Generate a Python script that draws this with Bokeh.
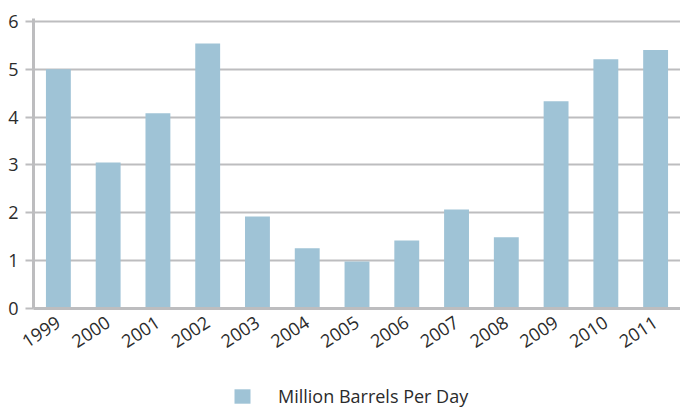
from bokeh.plotting import figure
from bokeh.layouts import column
from bokeh.models import ColumnDataSource, FactorRange, Range1d, Legend, LegendItem, FixedTicker
from bokeh.embed import file_html
from bokeh.resources import INLINE

years = ["1999", "2000", "2001", "2002", "2003", "2004", "2005", "2006",
         "2007", "2008", "2009", "2010", "2011"]
values = [5.0, 3.05, 4.08, 5.54, 1.92, 1.26, 0.98, 1.42, 2.07, 1.49, 4.33, 5.21, 5.40]
series_name = "Million Barrels Per Day"
y_ticks = [0, 1, 2, 3, 4, 5, 6]

FONT = "Open Sans"
BAR = "#9fc3d6"
GRID = "#bdbdbf"
TXT = "#2b2b2b"

src = ColumnDataSource(dict(x=years, top=values))

p = figure(width=680, height=380, output_backend="svg", toolbar_location=None,
           x_range=FactorRange(*years, range_padding=0),
           y_range=Range1d(0, 6.06),
           min_border_left=33, min_border_right=0, min_border_top=18, min_border_bottom=72)

r = p.vbar(x="x", top="top", width=0.5, source=src, fill_color=BAR, line_color=None)

p.outline_line_color = None
p.background_fill_color = "white"
p.border_fill_color = "white"

p.xgrid.grid_line_color = None
p.ygrid.grid_line_color = GRID
p.ygrid.grid_line_width = 2
p.ygrid.ticker = FixedTicker(ticks=y_ticks)

ya = p.yaxis[0]
ya.ticker = FixedTicker(ticks=y_ticks)
ya.axis_line_color = GRID
ya.axis_line_width = 3
ya.major_tick_line_color = GRID
ya.major_tick_line_width = 2
ya.major_tick_out = 8
ya.major_tick_in = 0
ya.minor_tick_line_color = None
ya.major_label_text_font = FONT
ya.major_label_text_font_size = "18px"
ya.major_label_text_color = TXT
ya.major_label_standoff = 7

xa = p.xaxis[0]
xa.axis_line_color = GRID
xa.axis_line_width = 3
xa.major_tick_line_color = None
xa.minor_tick_line_color = None
xa.major_label_orientation = 0.58
xa.major_label_text_font = FONT
xa.major_label_text_font_size = "18px"
xa.major_label_text_color = TXT
xa.major_label_standoff = 6

# Legend strip below the chart (separate canvas so the legend is not clipped)
p2 = figure(width=680, height=27, output_backend="svg", toolbar_location=None,
            x_range=FactorRange(*years, range_padding=0), y_range=Range1d(100, 101),
            min_border=0, min_border_left=0, min_border_right=0,
            min_border_top=0, min_border_bottom=0)
p2.axis.visible = False
p2.grid.visible = False
p2.outline_line_color = None
p2.border_fill_color = "white"
r2 = p2.vbar(x="x", top="top", width=0.5, source=src, fill_color=BAR, line_color=None)

legend = Legend(items=[LegendItem(label=series_name, renderers=[r2])],
                orientation="horizontal", location=(199, -1),
                glyph_width=20, glyph_height=18, label_standoff=26,
                label_text_font=FONT, label_text_font_size="18px",
                label_text_color=TXT, border_line_color=None,
                background_fill_alpha=0, padding=0, margin=0, spacing=0)
p2.add_layout(legend, "center")

layout = column(p, p2, spacing=0)
open("out.html", "w").write(file_html(layout, INLINE))
